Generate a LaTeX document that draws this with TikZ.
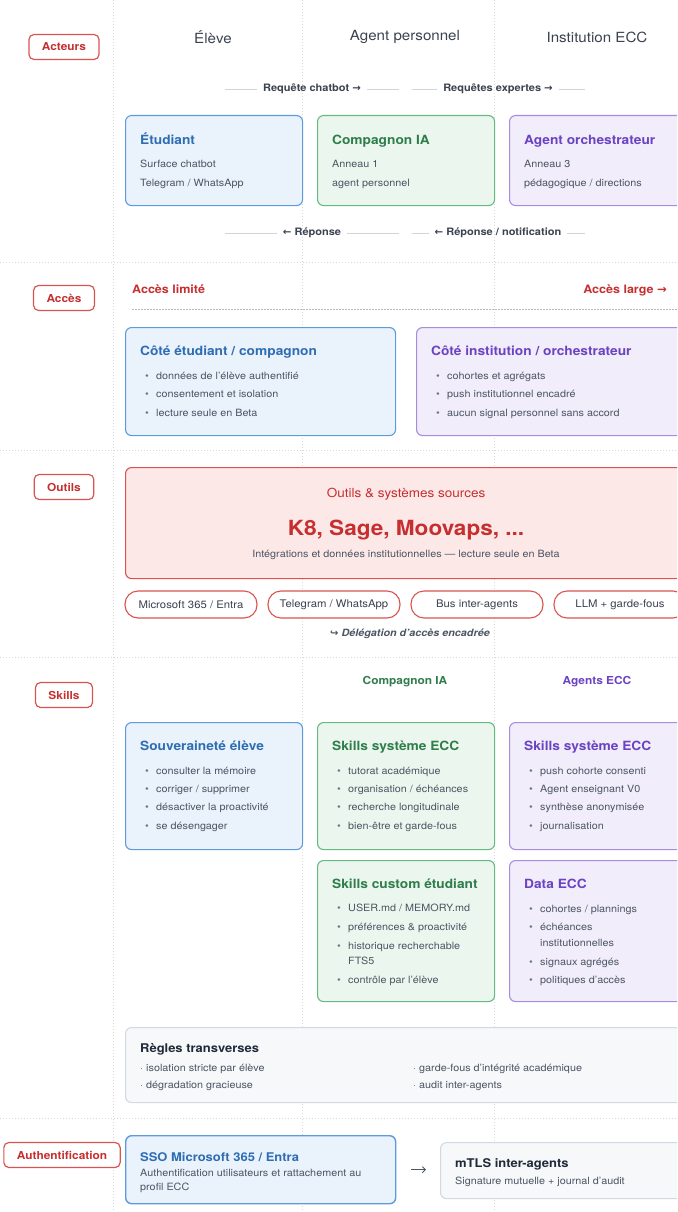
\documentclass[tikz,border=0pt]{standalone}
\usepackage{fontspec}
\setmainfont{TeX Gyre Heros}[FakeStretch=1.08]
\newfontfamily\symfont{DejaVu Sans}
\usetikzlibrary{arrows.meta}

\definecolor{bluefill}{HTML}{EAF2FC}
\definecolor{blueline}{HTML}{5E9BDA}
\definecolor{bluetitle}{HTML}{2F6DB3}
\definecolor{greenfill}{HTML}{EBF7EE}
\definecolor{greenline}{HTML}{66BB82}
\definecolor{greentitle}{HTML}{2E7D4B}
\definecolor{purplefill}{HTML}{F1EDFB}
\definecolor{purpleline}{HTML}{A78DE0}
\definecolor{purpletitle}{HTML}{6A42C2}
\definecolor{redfill}{HTML}{FDE8E8}
\definecolor{redline}{HTML}{D9534F}
\definecolor{redtitle}{HTML}{C62F2F}
\definecolor{grayfill}{HTML}{F6F8FA}
\definecolor{grayline}{HTML}{D3D9E1}
\definecolor{darktext}{HTML}{1F2937}
\definecolor{bodytext}{HTML}{4B5563}
\definecolor{headtext}{HTML}{3B4250}
\definecolor{gridline}{HTML}{D8D8D8}
\definecolor{rulegray}{HTML}{D1D5DB}
\definecolor{bulletgray}{HTML}{6B7280}

\newcommand{\fsz}[2]{\fontsize{#1}{#2}\selectfont}
\newcommand{\bul}[1]{\makebox[11pt][l]{\textcolor{bulletgray}{\textbullet}}#1}
\newcommand{\bulc}[1]{\hspace*{11pt}#1}
\newcommand{\dotitm}[1]{\textcolor{bulletgray}{·}\hspace{3pt}#1}
\newcommand{\rarr}{{\symfont →}}
\newcommand{\larr}{{\symfont ←}}

\begin{document}
\begin{tikzpicture}[x=1pt,y=-1pt,
  lab/.style={draw=redline, line width=1.2pt, rounded corners=5pt, fill=white, text=redtitle,
    font=\fsz{11}{13}\bfseries, minimum height=25pt, inner xsep=13pt, inner ysep=0pt},
  head/.style={text=headtext, font=\fsz{14}{16}},
  flow/.style={text=headtext, font=\fsz{10.2}{12}\bfseries, inner sep=0pt},
  rule/.style={draw=rulegray, line width=0.7pt},
  grid/.style={draw=gridline, dash pattern=on 1pt off 2pt, line width=0.6pt},
  card/.style={anchor=north west, inner sep=0pt, rounded corners=6pt, line width=1.1pt},
  bluecard/.style={card, draw=blueline, fill=bluefill},
  greencard/.style={card, draw=greenline, fill=greenfill},
  purplecard/.style={card, draw=purpleline, fill=purplefill},
  redcard/.style={card, draw=redline, fill=redfill},
  graycard/.style={card, draw=grayline, fill=grayfill},
  ttl/.style={anchor=base west, inner sep=0pt, font=\fsz{12.7}{15}\bfseries},
  txt/.style={anchor=base west, inner sep=0pt, text=bodytext, font=\fsz{10}{12}},
  acc/.style={inner sep=0pt, text=redtitle, font=\fsz{11.6}{14}\bfseries},
  pill/.style={draw=redline, fill=white, line width=1.1pt, rounded corners=13pt,
    minimum width=132pt, minimum height=27pt, inner sep=0pt, text=headtext, font=\fsz{10.5}{12}},
  colhead/.style={inner sep=0pt, font=\fsz{11}{13}\bfseries}
]
\clip (0,0) rectangle (677,1212);
\fill[white] (0,0) rectangle (677,1212);

% grille
\foreach \gx in {113,302,494} \draw[grid] (\gx,0) -- (\gx,1212);
\foreach \gy in {262,450,657,1118} \draw[grid] (0,\gy) -- (677,\gy);

% etiquettes des sections
\node[lab] (acteurs) at (64,47) {Acteurs};
\node[lab] (acces) at (64,298) {Accès};
\node[lab] (outils) at (64,487) {Outils};
\node[lab] (skills) at (64,695) {Skills};
\node[lab] (authent) at (62,1155) {Authentification};

% acteurs
\node[head] (eleve) at (213,37) {Élève};
\node[head] (agent) at (405,37) {Agent personnel};
\node[head] (inst) at (597,37) {Institution ECC};

\node[flow] (req1) at (312,89) {Requête chatbot \rarr};
\node[flow] (req2) at (498,89) {Requêtes expertes \rarr};
\draw[rule] (225,89) -- ([xshift=-6pt]req1.west);
\draw[rule] ([xshift=6pt]req1.east) -- (399,89);
\draw[rule] (412,89) -- ([xshift=-6pt]req2.west);
\draw[rule] ([xshift=6pt]req2.east) -- (585,89);

\node[bluecard, minimum width=177pt, minimum height=90pt] (etudiant) at (125,115) {};
\node[greencard, minimum width=177pt, minimum height=90pt] (compagnon) at (317,115) {};
\node[purplecard, minimum width=177pt, minimum height=90pt] (orchestrateur) at (509,115) {};
\node[ttl, text=bluetitle] (etudiant-t) at ([shift={(15,29)}]etudiant.north west) {Étudiant};
\node[txt] (etudiant-1) at ([shift={(15,52)}]etudiant.north west) {Surface chatbot};
\node[txt] (etudiant-2) at ([shift={(15,71)}]etudiant.north west) {Telegram / WhatsApp};
\node[ttl, text=greentitle] (compagnon-t) at ([shift={(15,29)}]compagnon.north west) {Compagnon IA};
\node[txt] (compagnon-1) at ([shift={(15,52)}]compagnon.north west) {Anneau 1};
\node[txt] (compagnon-2) at ([shift={(15,71)}]compagnon.north west) {agent personnel};
\node[ttl, text=purpletitle] (orchestrateur-t) at ([shift={(15,29)}]orchestrateur.north west) {Agent orchestrateur};
\node[txt] (orchestrateur-1) at ([shift={(15,52)}]orchestrateur.north west) {Anneau 3};
\node[txt] (orchestrateur-2) at ([shift={(15,71)}]orchestrateur.north west) {pédagogique / directions};

\node[flow] (rep1) at (312,233) {\larr\ Réponse};
\node[flow] (rep2) at (498,233) {\larr\ Réponse / notification};
\draw[rule] (225,233) -- ([xshift=-6pt]rep1.west);
\draw[rule] ([xshift=6pt]rep1.east) -- (399,233);
\draw[rule] (412,233) -- ([xshift=-6pt]rep2.west);
\draw[rule] ([xshift=6pt]rep2.east) -- (585,233);

% acces
\node[acc, anchor=west] (limite) at (132,289) {Accès limité};
\node[acc, anchor=east] (large) at (667,290) {Accès large \rarr};
\draw[draw=gray!55, dash pattern=on 1.5pt off 1.5pt, line width=0.6pt] (132,309) -- (677,309);

\node[bluecard, minimum width=270pt, minimum height=108pt] (cetu) at (125,327) {};
\node[purplecard, minimum width=270pt, minimum height=108pt] (cinst) at (416,327) {};
\node[ttl, text=bluetitle] (cetu-t) at ([shift={(15,28)}]cetu.north west) {Côté étudiant / compagnon};
\foreach \t [count=\i] in {données de l'élève authentifié, consentement et isolation, lecture seule en Beta}
  \node[txt] (cetu-\i) at ([shift={(20,33.5+18.5*\i)}]cetu.north west) {\bul{\t}};
\node[ttl, text=purpletitle] (cinst-t) at ([shift={(15,28)}]cinst.north west) {Côté institution / orchestrateur};
\foreach \t [count=\i] in {cohortes et agrégats, push institutionnel encadré, aucun signal personnel sans accord}
  \node[txt] (cinst-\i) at ([shift={(20,33.5+18.5*\i)}]cinst.north west) {\bul{\t}};

% outils
\node[redcard, minimum width=561pt, minimum height=111pt] (sources) at (125,467) {};
\node[anchor=base, inner sep=0pt, text=redtitle, font=\fsz{12.5}{15}] (sources-t)
  at ([shift={(0,30)}]sources.north) {Outils \& systèmes sources};
\node[anchor=base, inner sep=0pt, text=redtitle, font=\fsz{20.9}{24}\bfseries] (sources-k)
  at ([shift={(0,68)}]sources.north) {K8, Sage, Moovaps, ...};
\node[anchor=base, inner sep=0pt, text=bodytext, font=\fsz{10}{12}] (sources-s)
  at ([shift={(0,90)}]sources.north) {Intégrations et données institutionnelles — lecture seule en Beta};

\foreach \t [count=\i] in {Microsoft 365 / Entra, Telegram / WhatsApp, Bus inter-agents, LLM + garde-fous}
  \node[pill] (pill\i) at ({48+143*\i},604.5) {\t};
\node[inner sep=0pt, text=bodytext, font=\fsz{10}{12}\bfseries\itshape] (deleg) at (410,634)
  {{\symfont\upshape ↪} Délégation d'accès encadrée};

% skills
\node[colhead, text=greentitle] (skcomp) at (405,682) {Compagnon IA};
\node[colhead, text=purpletitle] (skagents) at (597,682) {Agents ECC};

\node[bluecard, minimum width=177pt, minimum height=127pt] (souv) at (125,722) {};
\node[greencard, minimum width=177pt, minimum height=127pt] (sysg) at (317,722) {};
\node[purplecard, minimum width=177pt, minimum height=127pt] (sysp) at (509,722) {};
\node[ttl, text=bluetitle] (souv-t) at ([shift={(15,28)}]souv.north west) {Souveraineté élève};
\foreach \t [count=\i] in {consulter la mémoire, corriger / supprimer, désactiver la proactivité, se désengager}
  \node[txt] (souv-\i) at ([shift={(20,33.6+18.4*\i)}]souv.north west) {\bul{\t}};
\node[ttl, text=greentitle] (sysg-t) at ([shift={(15,28)}]sysg.north west) {Skills système ECC};
\foreach \t [count=\i] in {tutorat académique, organisation / échéances, recherche longitudinale, bien-être et garde-fous}
  \node[txt] (sysg-\i) at ([shift={(20,33.6+18.4*\i)}]sysg.north west) {\bul{\t}};
\node[ttl, text=purpletitle] (sysp-t) at ([shift={(15,28)}]sysp.north west) {Skills système ECC};
\foreach \t [count=\i] in {push cohorte consenti, Agent enseignant V0, synthèse anonymisée, journalisation}
  \node[txt] (sysp-\i) at ([shift={(20,33.6+18.4*\i)}]sysp.north west) {\bul{\t}};

\node[greencard, minimum width=177pt, minimum height=141pt] (custom) at (317,860) {};
\node[purplecard, minimum width=177pt, minimum height=141pt] (data) at (509,860) {};
\node[ttl, text=greentitle] (custom-t) at ([shift={(15,28)}]custom.north west) {Skills custom étudiant};
\node[txt] (custom-1) at ([shift={(20,51)}]custom.north west) {\bul{USER.md / MEMORY.md}};
\node[txt] (custom-2) at ([shift={(20,70)}]custom.north west) {\bul{préférences \& proactivité}};
\node[txt] (custom-3) at ([shift={(20,89)}]custom.north west) {\bul{historique recherchable}};
\node[txt] (custom-3b) at ([shift={(20,104)}]custom.north west) {\bulc{FTS5}};
\node[txt] (custom-4) at ([shift={(20,123)}]custom.north west) {\bul{contrôle par l'élève}};
\node[ttl, text=purpletitle] (data-t) at ([shift={(15,28)}]data.north west) {Data ECC};
\node[txt] (data-1) at ([shift={(20,52)}]data.north west) {\bul{cohortes / plannings}};
\node[txt] (data-2) at ([shift={(20,70)}]data.north west) {\bul{échéances}};
\node[txt] (data-2b) at ([shift={(20,86)}]data.north west) {\bulc{institutionnelles}};
\node[txt] (data-3) at ([shift={(20,105)}]data.north west) {\bul{signaux agrégés}};
\node[txt] (data-4) at ([shift={(20,123)}]data.north west) {\bul{politiques d'accès}};

% regles transverses
\node[graycard, minimum width=561pt, minimum height=75pt] (regles) at (125,1027) {};
\node[ttl, text=darktext, font=\fsz{12}{14}\bfseries] (regles-t) at ([shift={(15,25)}]regles.north west) {Règles transverses};
\node[txt] (regles-1) at ([shift={(15,44)}]regles.north west) {\dotitm{isolation stricte par élève}};
\node[txt] (regles-2) at ([shift={(15,61)}]regles.north west) {\dotitm{dégradation gracieuse}};
\node[txt] (regles-3) at ([shift={(288,44)}]regles.north west) {\dotitm{garde-fous d'intégrité académique}};
\node[txt] (regles-4) at ([shift={(288,61)}]regles.north west) {\dotitm{audit inter-agents}};

% authentification
\node[bluecard, line width=1.4pt, minimum width=270pt, minimum height=68pt] (sso) at (125,1135) {};
\node[ttl, text=bluetitle, font=\fsz{12}{14}\bfseries] (sso-t) at ([shift={(15,26)}]sso.north west) {SSO Microsoft 365 / Entra};
\node[txt] (sso-1) at ([shift={(15,41)}]sso.north west) {Authentification utilisateurs et rattachement au};
\node[txt] (sso-2) at ([shift={(15,55)}]sso.north west) {profil ECC};
\node[graycard, minimum width=246pt, minimum height=56pt] (mtls) at (440,1142) {};
\node[ttl, text=darktext, font=\fsz{12}{14}\bfseries] (mtls-t) at ([shift={(15,25)}]mtls.north west) {mTLS inter-agents};
\node[txt] (mtls-1) at ([shift={(15,42)}]mtls.north west) {Signature mutuelle + journal d'audit};
\draw[-{Straight Barb[length=3pt,width=6pt]}, draw=bodytext, line width=0.9pt]
  ([xshift=15pt]sso.east) -- ([xshift=-14pt]mtls.west |- sso.east);

\end{tikzpicture}
\end{document}
